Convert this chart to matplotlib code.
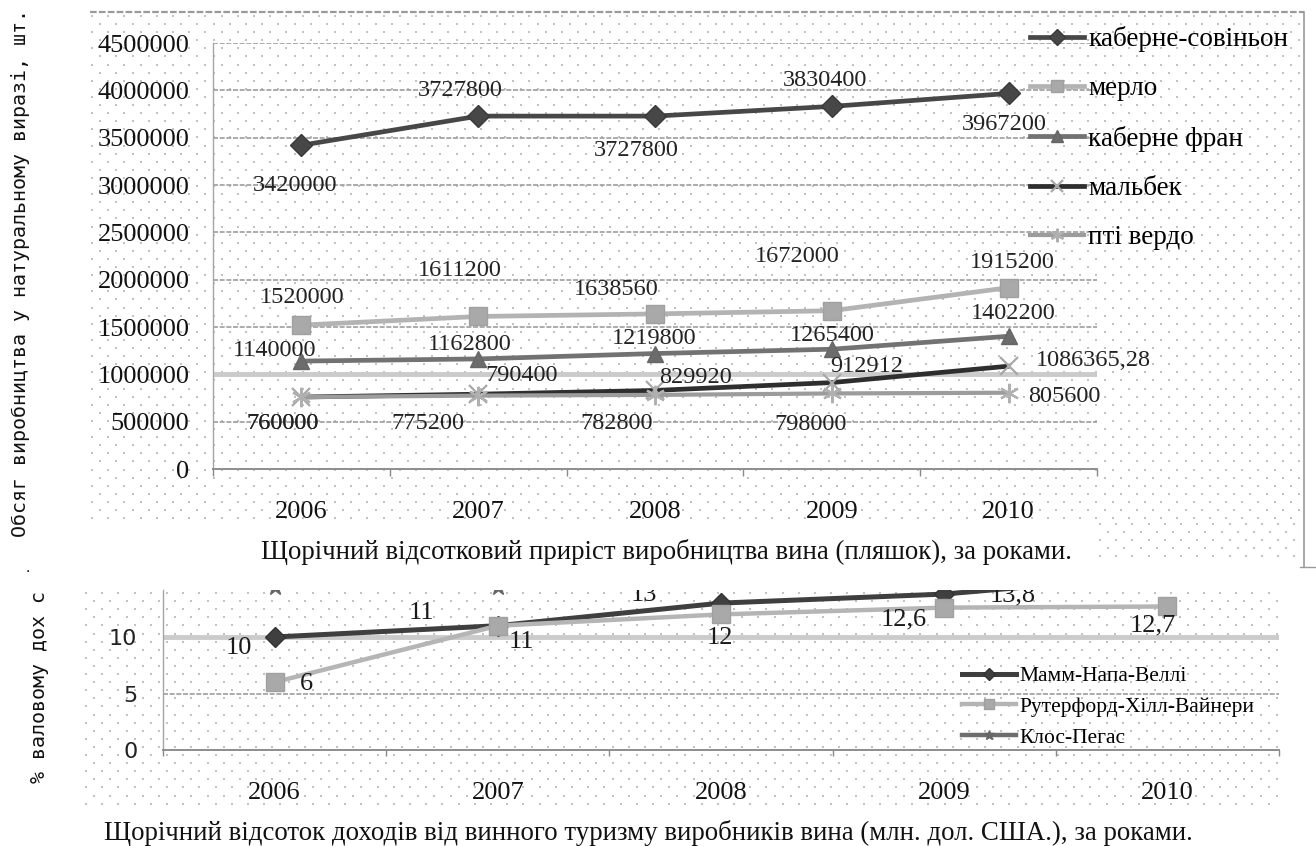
import numpy as np
import matplotlib
matplotlib.use("Agg")
import matplotlib.pyplot as plt

# ---------------- data ----------------
years = ["2006", "2007", "2008", "2009", "2010"]

top_names = ["каберне-совіньон", "мерло", "каберне фран", "мальбек", "пті вердо"]
cabernet_sauvignon = [3420000, 3727800, 3727800, 3830400, 3967200]
merlot = [1520000, 1611200, 1638560, 1672000, 1915200]
cabernet_franc = [1140000, 1162800, 1219800, 1265400, 1402200]
malbec = [760000, 790400, 829920, 912912, 1086365.28]
petit_verdot = [760000, 775200, 782800, 798000, 805600]
top_yticks = [0, 500000, 1000000, 1500000, 2000000, 2500000, 3000000, 3500000, 4000000, 4500000]

bottom_names = ["Мамм-Напа-Веллі", "Рутерфорд-Хілл-Вайнери", "Клос-Пегас"]
mumm = [10, 11, 13, 13.8, 15.5]
rutherford = [6, 11, 12, 12.6, 12.7]
clos_pegase = [14.45, 14.45, 15.5, 16.5, 17.5]
bottom_yticks = [0, 5, 10]

top_xlabel = "Щорічний відсотковий приріст виробництва вина (пляшок), за роками."
top_ylabel = "Обсяг виробництва у натуральному виразі, шт."
bottom_xlabel = "Щорічний відсоток доходів від винного туризму виробників вина (млн. дол. США.), за роками."
bottom_ylabel = "% валовому дох с"

# ---------------- styles ----------------
W, H = 1316, 846
SERIF = "Liberation Serif"
MONO = "DejaVu Sans Mono"

top_styles = [
    dict(color="#474747", marker="D", ms=11, mfc="#474747", mec="#3a3a3a", lw=3.4),
    dict(color="#b3b3b3", marker="s", ms=13, mfc="#a9a9a9", mec="#a0a0a0", lw=3.4),
    dict(color="#727272", marker="^", ms=12, mfc="#6c6c6c", mec="#666666", lw=3.4),
    dict(color="#2e2e2e", marker="x", ms=13, mfc="none", mec="#a8a8a8", mew=1.6, lw=3.4),
    dict(color="#9c9c9c", marker=(6, 2, 0), ms=14, mfc="none", mec="#b0b0b0", mew=1.6, lw=3.0),
]
# label offsets in pixels (dx, dy) relative to the point
top_offsets = [
    [(-6, -40), (-18, 26), (-19, -34), (-7, 26), (-4, -31)],
    [(1, 28), (-18, 46), (-39, 24), (-35, 54), (4, 25)],
    [(-27, 11), (-8, 14), (-1, 15), (0, 14), (5, 23)],
    [(-19, -26), (43, 19), (40, 13), (35, 16), (85, 6)],
    [(-19, -26), (-50, -28), (-38, -29), (-21, -31), (56, -4)],
]

bottom_styles = [
    dict(color="#3f3f3f", marker="D", ms=10, mfc="#3f3f3f", mec="#333333", lw=3.6),
    dict(color="#b5b5b5", marker="s", ms=13, mfc="#a9a9a9", mec="#a0a0a0", lw=3.2),
    dict(color="#6e6e6e", marker="*", ms=12, mfc="#666666", mec="#666666", lw=3.2),
]
bottom_offsets = [
    [(-36, -11), (-76, 13), (-77, 8), (69, -1), None],
    [(32, -2), (24, -16), (-1, -24), (-40, -12), (-15, -19)],
    [None, None, None, None, None],
]


def fmt(v):
    if float(v).is_integer():
        return str(int(v))
    return ("%.2f" % v).rstrip("0").rstrip(".").replace(".", ",")


def fx(px):
    return px / W


def fy(py):
    return 1 - py / H


fig = plt.figure(figsize=(W / 100, H / 100), dpi=100)
fig.patch.set_facecolor("white")

# ---------- decorative background (dotted pattern + frame) ----------
bg = fig.add_axes([0, 0, 1, 1], zorder=0)
bg.set_xlim(0, W)
bg.set_ylim(H, 0)
bg.axis("off")


def dot_field(x0, x1, y0, y1):
    xs_all, ys_all = [], []
    for i, yy in enumerate(np.arange(y0, y1, 8.1)):
        off = 0 if i % 2 == 0 else 8.1
        xs = np.arange(x0 + off, x1, 16.2)
        xs_all.append(xs)
        ys_all.append(np.full_like(xs, yy))
    bg.scatter(np.concatenate(xs_all), np.concatenate(ys_all), s=0.9, marker="s",
               c="#c2c2c2", linewidths=0)


dot_field(92, 1302, 16, 524)
dot_field(1100, 1302, 524, 563)
dot_field(86, 1279, 593, 805)
bg.plot([90, 1304], [12, 12], color="#9a9a9a", lw=1.6, ls=(0, (3, 1)))
bg.plot([1304, 1304], [12, 567], color="#9a9a9a", lw=1.2)
bg.plot([1300, 1316], [567, 567], color="#9a9a9a", lw=1.0)
fig.text(fx(28), fy(568), ".", fontsize=10, ha="center", va="center")

# ---------------- top chart ----------------
ax = fig.add_axes([fx(213), fy(469), (1097 - 213) / W, (469 - 43) / H], zorder=2)
ax.set_facecolor("none")
x = np.arange(len(years))
top_series = [cabernet_sauvignon, merlot, cabernet_franc, malbec, petit_verdot]
handles = []
for name, vals, st, offs in zip(top_names, top_series, top_styles, top_offsets):
    ln, = ax.plot(x, vals, label=name, zorder=3, clip_on=False, **st)
    handles.append(ln)
    for xi, v, off in zip(x, vals, offs):
        ax.annotate(fmt(v), (xi, v), xytext=off, textcoords="offset pixels",
                    ha="center", va="center", fontsize=17.5, family=SERIF,
                    color="#222222", zorder=5)

ax.set_xlim(-0.5, len(years) - 0.5)
ax.set_ylim(0, 4500000)
ax.set_yticks(top_yticks)
ax.set_yticklabels([str(t) for t in top_yticks], family=SERIF, fontsize=19)
ax.set_xticks(x)
ax.set_xticklabels(years, family=SERIF, fontsize=19)
ax.set_xticks(np.arange(-0.5, len(years), 1), minor=True)
ax.tick_params(axis="x", which="major", length=0, pad=23, colors="#111111")
ax.tick_params(axis="x", which="minor", length=5, width=1, color="#888888", direction="out")
ax.tick_params(axis="y", length=0, pad=17, colors="#111111")
for t in top_yticks[1:]:
    if t == 1000000:
        ax.axhline(t, color="#cbcbcb", lw=3.5, zorder=1)
    else:
        ax.axhline(t, color="#9d9d9d", lw=1.2, ls=(0, (3, 1)), zorder=1)
for s in ["top", "right"]:
    ax.spines[s].set_visible(False)
ax.spines["left"].set_color("#a5a5a5")
ax.spines["left"].set_linewidth(1.0)
ax.spines["bottom"].set_color("#8d8d8d")
ax.spines["bottom"].set_linewidth(1.4)
ax.spines["bottom"].set_linestyle((0, (2, 1)))

fig.legend(handles=handles, loc="upper left",
           bbox_to_anchor=(fx(1030), fy(26)), frameon=False,
           prop=dict(family=SERIF, size=19.5), handlelength=2.0,
           handletextpad=0.15, labelspacing=0.9, borderpad=0,
           borderaxespad=0, markerscale=0.7)

fig.text(fx(666), fy(552), top_xlabel, ha="center", va="center",
         fontsize=19.3, family=SERIF, color="#111111")
fig.text(fx(21), fy(273), top_ylabel, rotation=90, ha="center", va="center",
         fontsize=14.4, family=MONO, color="#111111")

# ---------------- bottom chart ----------------
ax2 = fig.add_axes([fx(163), fy(750), (1279 - 163) / W, (750 - 590) / H], zorder=2)
ax2.set_facecolor("none")
bottom_series = [mumm, rutherford, clos_pegase]
handles2 = []
for name, vals, st, offs in zip(bottom_names, bottom_series, bottom_styles, bottom_offsets):
    ln, = ax2.plot(x, vals, label=name, zorder=3, **st)
    handles2.append(ln)
    for xi, v, off in zip(x, vals, offs):
        if off is None:
            continue
        ax2.annotate(fmt(v), (xi, v), xytext=off, textcoords="offset pixels",
                     ha="center", va="center", fontsize=19, family=SERIF,
                     color="#1a1a1a", zorder=5, annotation_clip=False, clip_on=True)

ax2.set_xlim(-0.5, len(years) - 0.5 - 17 / 226.5)
ax2.set_ylim(0, 160 / 11.3)
ax2.set_yticks(bottom_yticks)
ax2.set_yticklabels([str(t) for t in bottom_yticks], family="DejaVu Sans", fontsize=16)
ax2.set_xticks(x)
ax2.set_xticklabels(years, family=SERIF, fontsize=19)
ax2.set_xticks(np.arange(-0.5, len(years), 1), minor=True)
ax2.tick_params(axis="x", which="major", length=0, pad=23, colors="#111111")
ax2.tick_params(axis="x", which="minor", length=4, width=1, color="#888888", direction="out")
ax2.tick_params(axis="y", length=0, pad=18.5, colors="#222222")
ax2.axhline(10, color="#cbcbcb", lw=3.5, zorder=1)
ax2.axhline(5, color="#9d9d9d", lw=1.2, ls=(0, (3, 1)), zorder=1)
for s in ["top", "right"]:
    ax2.spines[s].set_visible(False)
ax2.spines["left"].set_color("#a5a5a5")
ax2.spines["left"].set_linewidth(1.0)
ax2.spines["bottom"].set_color("#8d8d8d")
ax2.spines["bottom"].set_linewidth(1.4)
ax2.spines["bottom"].set_linestyle((0, (2, 1)))

fig.legend(handles=handles2, loc="upper left", bbox_to_anchor=(fx(962), fy(666)),
           frameon=False, prop=dict(family=SERIF, size=15.5), handlelength=2.5,
           handletextpad=0.15, labelspacing=0.5, borderpad=0, borderaxespad=0,
           markerscale=0.6)

fig.text(fx(648), fy(833), bottom_xlabel, ha="center", va="center",
         fontsize=19.4, family=SERIF, color="#111111")
fig.text(fx(40), fy(783), bottom_ylabel, rotation=90, ha="center", va="bottom",
         fontsize=14.4, family=MONO, color="#111111")

fig.savefig("out.png", dpi=100, facecolor="white")
